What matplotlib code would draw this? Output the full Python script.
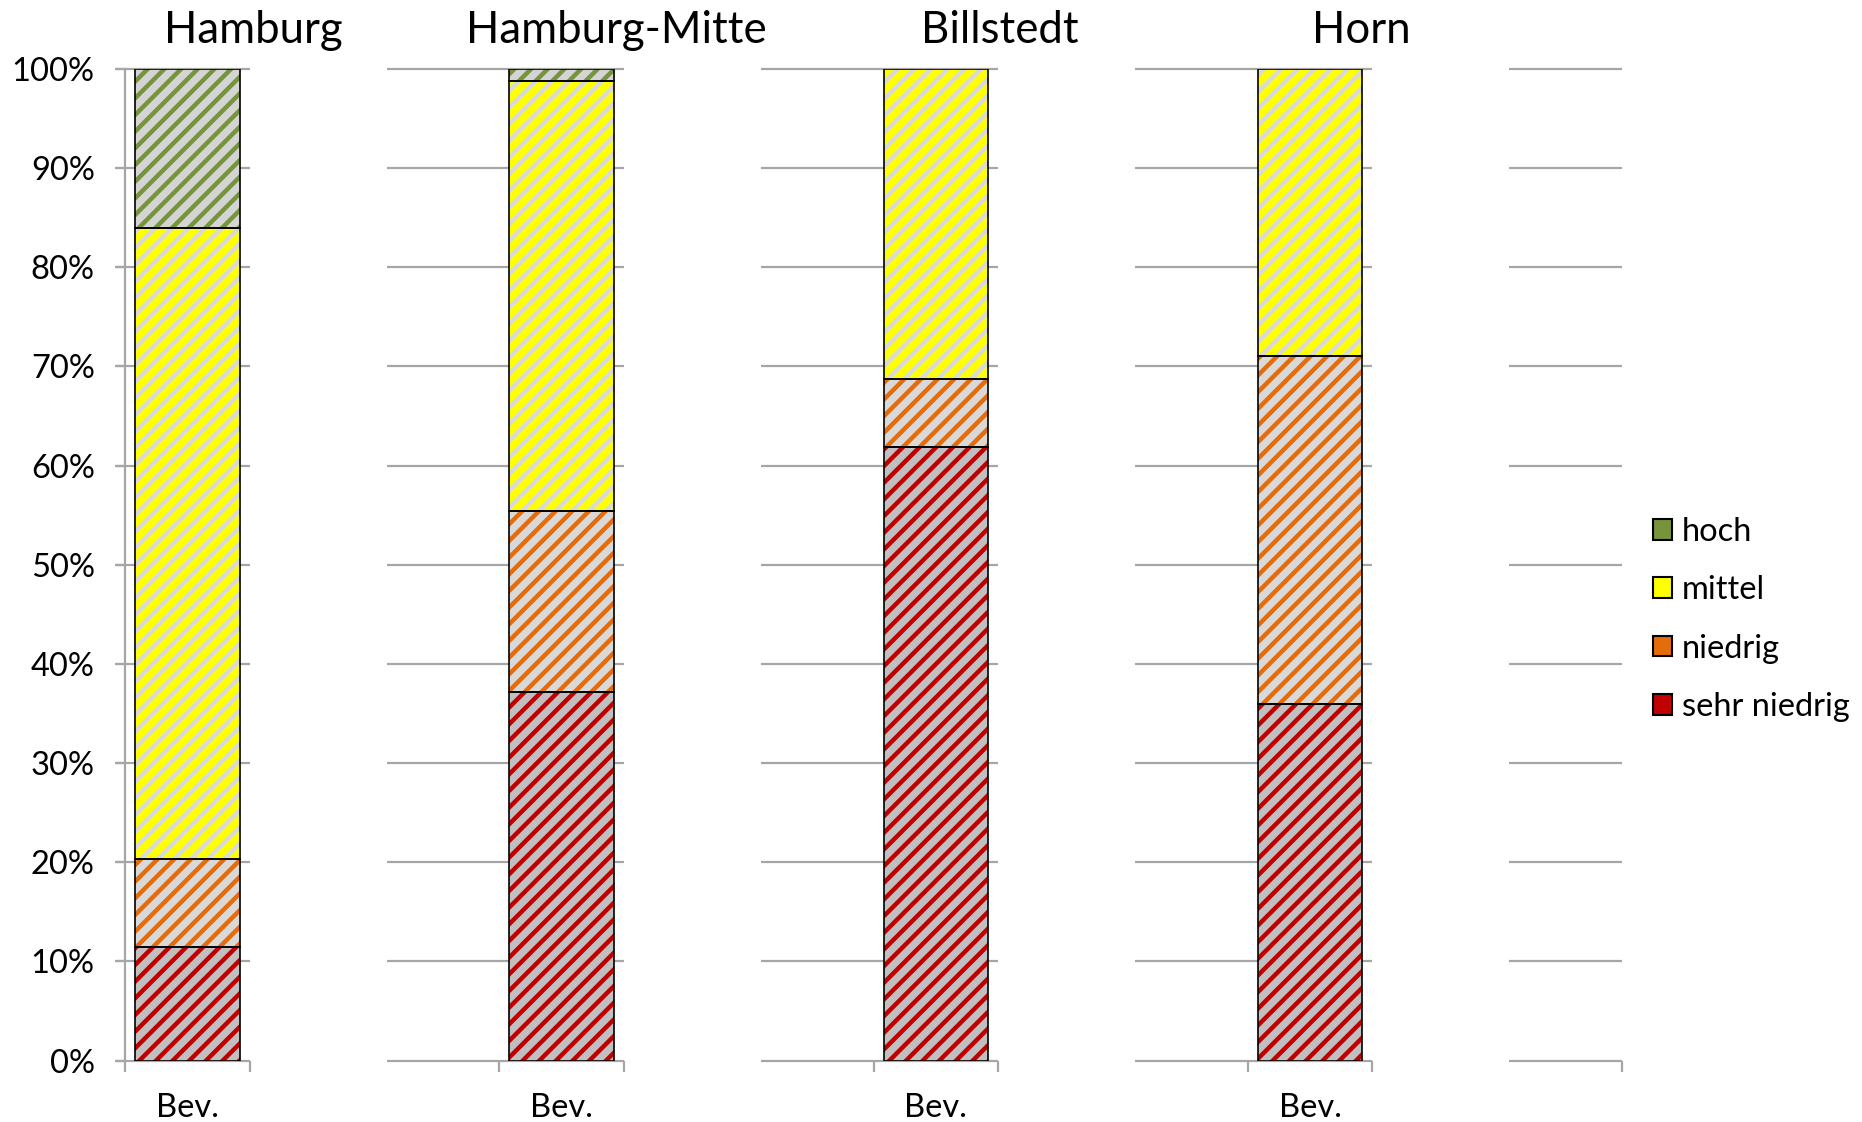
import numpy as np
import matplotlib
matplotlib.use('Agg')
import matplotlib.pyplot as plt
from matplotlib.patches import Patch
from matplotlib.transforms import blended_transform_factory

plt.rcParams['font.family'] = ['Lato', 'DejaVu Sans']
plt.rcParams['hatch.linewidth'] = 3.2

# data (percent of population)
regions = ['Hamburg', 'Hamburg-Mitte', 'Billstedt', 'Horn']
cat_label = 'Bev.'
levels = ['sehr niedrig', 'niedrig', 'mittel', 'hoch']
sehr_niedrig = [11.5, 37.2, 61.9, 36.0]
niedrig = [8.8, 18.2, 6.8, 35.1]
mittel = [63.7, 43.4, 31.3, 28.9]
hoch = [16.0, 1.2, 0.0, 0.0]
y_ticks = [0, 10, 20, 30, 40, 50, 60, 70, 80, 90, 100]

# styles: (solid colour, background, stripe colour)
styles = {
    'sehr niedrig': ('#c00000', '#c0c0c0', '#c00000'),
    'niedrig': ('#e46c0a', '#d9d9d9', '#e46c0a'),
    'mittel': ('#ffff00', '#ffff00', '#d9d9d9'),
    'hoch': ('#77933c', '#d4d4d4', '#77933c'),
}

# layout
bar_x = [0.5, 3.5, 6.5, 9.5]
title_x = [1.03, 3.94, 7.01, 9.91]
grid_spans = [(-0.076, 1), (2.095, 4), (5.095, 7), (8.095, 10), (11.095, 12)]
cat_ticks = [0, 1, 3, 4, 6, 7, 9, 10, 12]
grey = '#a6a6a6'

fig = plt.figure(figsize=(18.62, 11.22), dpi=100)
ax = fig.add_axes([0.0673, 0.0547, 0.8037, 0.8838])
ax.set_xlim(0, 12)
ax.set_ylim(0, 100)

for a, b in grid_spans:
    ax.hlines(y_ticks, a, b, color=grey, lw=1.6, zorder=1, clip_on=False)

series = [sehr_niedrig, niedrig, mittel, hoch]
bottom = np.zeros(len(regions))
for name, vals in zip(levels, series):
    vals = np.array(vals)
    solid, bg, stripe = styles[name]
    mask = vals > 0
    xs = np.array(bar_x)[mask]
    bars = ax.bar(xs, vals[mask], 0.84, bottom=bottom[mask], color=bg,
                  edgecolor=stripe, linewidth=0, hatch='//', zorder=2)
    for b in bars:
        if hasattr(b, 'set_hatch_linewidth'):
            b.set_hatch_linewidth(3.2)
    ax.bar(xs, vals[mask], 0.84, bottom=bottom[mask], fill=False,
           edgecolor='black', linewidth=1.2, zorder=3)
    bottom += vals

for s in ['top', 'right', 'bottom']:
    ax.spines[s].set_visible(False)
ax.spines['left'].set_color(grey)
ax.spines['left'].set_linewidth(1.6)

ax.set_yticks(y_ticks)
ax.set_yticklabels([f'{t}%' for t in y_ticks])
ax.tick_params(axis='y', direction='out', length=7, width=1.6, color=grey,
               pad=15, labelsize=23.5)
ax.set_xticks(cat_ticks)
ax.set_xticklabels([''] * len(cat_ticks))
ax.tick_params(axis='x', which='major', direction='out', length=8, width=1.6,
               color=grey)
ax.set_xticks(bar_x, minor=True)
ax.set_xticklabels([cat_label] * len(bar_x), minor=True)
ax.tick_params(axis='x', which='minor', length=0, pad=23, labelsize=23.5)

tr = blended_transform_factory(ax.transData, fig.transFigure)
for x, name in zip(title_x, regions):
    ax.text(x, 0.9617, name, transform=tr, ha='center', va='baseline',
            fontsize=31.5)

handles = [Patch(facecolor=styles[n][0], edgecolor='black', linewidth=1.5)
           for n in levels[::-1]]
fig.legend(handles, levels[::-1], loc='center left',
           bbox_to_anchor=(0.8875, 0.448), frameon=False, fontsize=23.5,
           borderpad=0, borderaxespad=0, handlelength=0.6, handleheight=0.6,
           handletextpad=0.3, labelspacing=0.87)

fig.savefig('out.png', dpi=100)
